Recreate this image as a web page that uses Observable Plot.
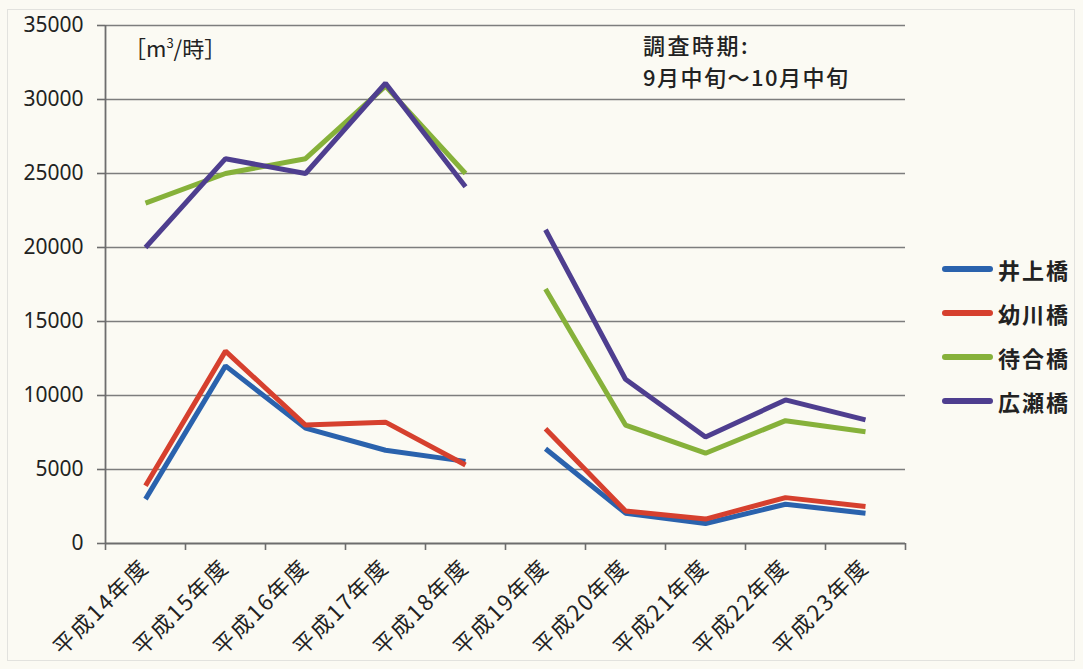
<!DOCTYPE html>
<html><head><meta charset="utf-8">
<script src="https://cdn.jsdelivr.net/npm/d3@7"></script>
<script src="https://cdn.jsdelivr.net/npm/@observablehq/plot@0.6"></script>
<style>
html,body{margin:0;padding:0;background:#fbfaf3;}
#wrap{position:relative;width:1083px;height:669px;overflow:hidden;font-family:"Noto Sans CJK JP","Noto Sans",sans-serif;color:#222;}
#frame{position:absolute;left:7px;top:9px;width:1068px;height:652px;border:1.5px solid #e2e2de;box-sizing:border-box;pointer-events:none;}
.note{position:absolute;white-space:nowrap;font-size:21px;line-height:1;}
#legend{position:absolute;left:942px;top:247px;}
.row{display:flex;align-items:center;height:44px;font-size:22px;font-weight:600;letter-spacing:2px;}
.sw{width:51px;height:6px;border-radius:3px;margin-right:5px;}
g[aria-label="x-axis tick label"] text{letter-spacing:2px;}
</style></head><body>
<div id="wrap"><div id="frame"></div></div>
<script>
const years = ["平成14年度","平成15年度","平成16年度","平成17年度","平成18年度","平成19年度","平成20年度","平成21年度","平成22年度","平成23年度"];
const segment = [0,0,0,0,0,1,1,1,1,1];
const seriesNames = ["井上橋","幼川橋","待合橋","広瀬橋"];
const seriesColors = ["#2a62ad","#d6402e","#86b13a","#4e3e8f"];
const inoue     = [3000,12000,7800,6300,5550,6400,2050,1350,2650,2050];
const osanagawa = [3900,13000,8000,8200,5300,7750,2200,1650,3100,2500];
const machiai   = [23000,25000,26000,30900,25000,17200,8000,6100,8300,7550];
const hirose    = [20000,26000,25000,31100,24100,21200,11100,7200,9700,8350];
const yTicks = [0,5000,10000,15000,20000,25000,30000,35000];

const seriesValues = [inoue, osanagawa, machiai, hirose];
const data = [];
seriesNames.forEach((name, s) => {
  seriesValues[s].forEach((v, i) => {
    data.push({series: name, idx: i + 0.5, value: v, seg: name + "-" + segment[i]});
  });
});

const chart = Plot.plot({
  width: 1083,
  height: 669,
  marginLeft: 105,
  marginRight: 178,
  marginTop: 25,
  marginBottom: 126,
  style: {background: "transparent", fontFamily: "'Noto Sans CJK JP','Noto Sans',sans-serif", color: "#222"},
  x: {domain: [0, years.length], axis: null},
  y: {domain: [0, 35000], axis: null},
  color: {domain: seriesNames, range: seriesColors},
  marks: [
    Plot.gridY(yTicks.slice(1), {stroke: "#7d7d7d", strokeOpacity: 1, strokeWidth: 1.6}),
    Plot.axisY(yTicks, {tickSize: 8, tickPadding: 14, stroke: "#6d6d6d", strokeWidth: 1.6, fontSize: 21, fontFamily: "'Noto Sans',sans-serif", fill: "#222", tickFormat: d3.format("d"), label: null}),
    Plot.ruleX([0], {stroke: "#6d6d6d", strokeWidth: 1.8}),
    Plot.ruleY([0], {stroke: "#6d6d6d", strokeWidth: 1.8}),
    Plot.axisX(d3.range(years.length + 1), {tickSize: 7, stroke: "#6d6d6d", strokeWidth: 1.6, tickFormat: () => "", label: null}),
    Plot.axisX(d3.range(years.length).map(i => i + 0.5), {tickSize: 0, tickPadding: 20, tickRotate: -45, fontSize: 22, fill: "#222", tickFormat: d => years[Math.floor(d)], label: null}),
    Plot.line(data, {x: "idx", y: "value", z: "seg", stroke: "series", strokeWidth: 5, strokeLinejoin: "miter", strokeLinecap: "butt"})
  ]
});
const wrap = document.getElementById("wrap");
wrap.insertBefore(chart, wrap.firstChild);
chart.style.position = "absolute";
chart.style.left = "0px";
chart.style.top = "0px";

function note(text, left, top, extra) {
  const d = document.createElement("div");
  d.className = "note";
  d.innerHTML = text;
  d.style.left = left + "px";
  d.style.top = top + "px";
  if (extra) Object.assign(d.style, extra);
  wrap.appendChild(d);
}
note("［m<sup style='font-size:13px;vertical-align:9px'>3</sup>/時］", 124, 36, {fontSize: "22px"});
note("調査時期:", 643, 33, {letterSpacing: "2.5px", fontWeight: "500", fontSize: "22px"});
note("9月中旬～10月中旬", 643, 65, {letterSpacing: "1.5px", fontWeight: "500", fontSize: "22px"});

const legend = document.createElement("div");
legend.id = "legend";
seriesNames.forEach((n, i) => {
  const r = document.createElement("div");
  r.className = "row";
  r.innerHTML = `<span class="sw" style="background:${seriesColors[i]}"></span><span>${n}</span>`;
  legend.appendChild(r);
});
wrap.appendChild(legend);
</script>
</body></html>
